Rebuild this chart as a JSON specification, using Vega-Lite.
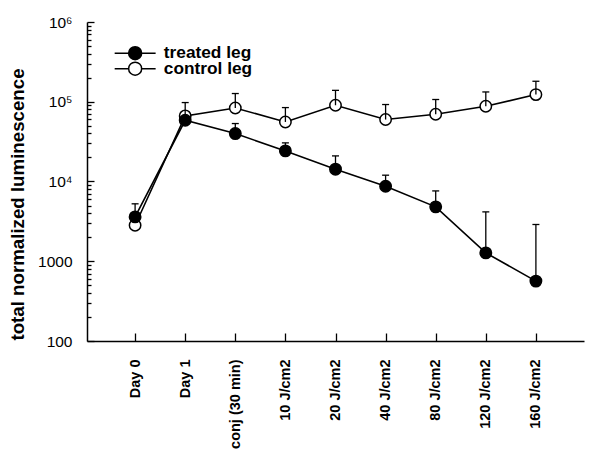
{
  "$schema": "https://vega.github.io/schema/vega-lite/v6.json",
  "width": 497,
  "height": 319,
  "autosize": {"type": "none"},
  "padding": {"left": 87, "top": 22, "right": 16, "bottom": 123},
  "background": "white",
  "config": {"view": {"stroke": null}, "font": "Liberation Sans"},
  "data": {
    "values": [
      {"series": "control leg", "cat": "Day 0", "value": 2830, "upper": null},
      {"series": "control leg", "cat": "Day 1", "value": 66400, "upper": 97700},
      {"series": "control leg", "cat": "conj (30 min)", "value": 83600, "upper": 126800},
      {"series": "control leg", "cat": "10 J/cm2", "value": 55800, "upper": 84500},
      {"series": "control leg", "cat": "20 J/cm2", "value": 90400, "upper": 139000},
      {"series": "control leg", "cat": "40 J/cm2", "value": 59800, "upper": 92300},
      {"series": "control leg", "cat": "80 J/cm2", "value": 69700, "upper": 106700},
      {"series": "control leg", "cat": "120 J/cm2", "value": 87900, "upper": 132700},
      {"series": "control leg", "cat": "160 J/cm2", "value": 123000, "upper": 180700},
      {"series": "treated leg", "cat": "Day 0", "value": 3600, "upper": 5250},
      {"series": "treated leg", "cat": "Day 1", "value": 58600, "upper": null},
      {"series": "treated leg", "cat": "conj (30 min)", "value": 39900, "upper": 53300},
      {"series": "treated leg", "cat": "10 J/cm2", "value": 24200, "upper": 30500},
      {"series": "treated leg", "cat": "20 J/cm2", "value": 14270, "upper": 20940},
      {"series": "treated leg", "cat": "40 J/cm2", "value": 8730, "upper": 12000},
      {"series": "treated leg", "cat": "80 J/cm2", "value": 4810, "upper": 7620},
      {"series": "treated leg", "cat": "120 J/cm2", "value": 1274, "upper": 4160},
      {"series": "treated leg", "cat": "160 J/cm2", "value": 564, "upper": 2890}
    ]
  },
  "encoding": {
    "x": {
      "field": "cat",
      "type": "nominal",
      "sort": ["Day 0", "Day 1", "conj (30 min)", "10 J/cm2", "20 J/cm2", "40 J/cm2", "80 J/cm2", "120 J/cm2", "160 J/cm2"],
      "scale": {"type": "point", "padding": 0.96},
      "axis": {
        "title": null,
        "labelAngle": 270,
        "labelAlign": "right",
        "labelBaseline": "middle",
        "labelFont": "Liberation Sans",
        "labelFontWeight": "bold",
        "labelFontSize": 14.5,
        "labelColor": "black",
        "labelPadding": 26,
        "tickSize": -8,
        "tickColor": "black",
        "tickWidth": 1.3,
        "domainColor": "black",
        "domainWidth": 1.5,
        "grid": false
      }
    }
  },
  "layer": [
    {
      "mark": {"type": "line", "color": "black", "strokeWidth": 1.6},
      "encoding": {
        "y": {
          "field": "value",
          "type": "quantitative",
          "scale": {"type": "log", "domain": [100, 1000000]},
          "axis": {
            "title": "total normalized luminescence",
            "titleFont": "Liberation Sans",
            "titleFontSize": 18.7,
            "titleFontWeight": "bold",
            "titleColor": "black",
            "titleAngle": 270,
            "titleBaseline": "alphabetic",
            "titleX": -64,
            "titleY": 182,
            "values": [100, 200, 300, 400, 500, 600, 700, 800, 900, 1000, 2000, 3000, 4000, 5000, 6000, 7000, 8000, 9000, 10000, 20000, 30000, 40000, 50000, 60000, 70000, 80000, 90000, 100000, 200000, 300000, 400000, 500000, 600000, 700000, 800000, 900000, 1000000],
            "labelExpr": "datum.value == 100 ? '100' : datum.value == 1000 ? '1000' : datum.value == 10000 ? '10⁴' : datum.value == 100000 ? '10⁵' : datum.value == 1000000 ? '10⁶' : ''",
            "labelFont": "Liberation Sans",
            "labelFontSize": 15.5,
            "labelColor": "black",
            "labelPadding": 22,
            "tickSize": {"condition": {"test": "indexof([100, 1000, 10000, 100000, 1000000], datum.value) >= 0", "value": -7}, "value": -4},
            "tickColor": "black",
            "tickWidth": 1.3,
            "domainColor": "black",
            "domainWidth": 1.5,
            "grid": false
          }
        },
        "detail": {"field": "series"}
      }
    },
    {
      "transform": [{"filter": "datum.series == 'control leg'"}],
      "mark": {"type": "point", "shape": "circle", "fill": "white", "filled": true, "size": 130, "strokeWidth": 1.5, "opacity": 1},
      "encoding": {
        "y": {"field": "value", "type": "quantitative"},
        "stroke": {
          "field": "series",
          "type": "nominal",
          "scale": {"domain": ["control leg"], "range": ["black"]},
          "legend": {
            "orient": "none",
            "legendX": 39.5,
            "legendY": 38,
            "title": null,
            "symbolType": "M-3.15,0L-1,0M1,0L3.15,0M-1,0A1,1,0,1,1,1,0A1,1,0,1,1,-1,0Z",
            "symbolSize": 169,
            "symbolFillColor": "white",
            "symbolStrokeWidth": 1.5,
            "symbolOpacity": 1,
            "labelFont": "Liberation Sans",
            "labelFontSize": 17.3,
            "labelFontWeight": "bold",
            "labelColor": "black",
            "labelOffset": 20
          }
        }
      }
    },
    {
      "transform": [{"filter": "datum.series == 'treated leg'"}],
      "mark": {"type": "point", "shape": "circle", "filled": true, "size": 130, "stroke": "black", "strokeWidth": 1.5, "opacity": 1},
      "encoding": {
        "y": {"field": "value", "type": "quantitative"},
        "fill": {
          "field": "series",
          "type": "nominal",
          "scale": {"domain": ["treated leg"], "range": ["black"]},
          "legend": {
            "orient": "none",
            "legendX": 39.5,
            "legendY": 22.5,
            "title": null,
            "symbolType": "M-3.15,0L-1,0M1,0L3.15,0M-1,0A1,1,0,1,1,1,0A1,1,0,1,1,-1,0Z",
            "symbolSize": 169,
            "symbolStrokeColor": "black",
            "symbolStrokeWidth": 1.5,
            "symbolOpacity": 1,
            "labelFont": "Liberation Sans",
            "labelFontSize": 17.3,
            "labelFontWeight": "bold",
            "labelColor": "black",
            "labelOffset": 20
          }
        }
      }
    },
    {
      "transform": [{"filter": "datum.upper != null"}],
      "mark": {"type": "rule", "color": "black", "strokeWidth": 1.3},
      "encoding": {
        "y": {"field": "value", "type": "quantitative"},
        "y2": {"field": "upper"}
      }
    },
    {
      "transform": [{"filter": "datum.upper != null"}],
      "mark": {"type": "tick", "orient": "horizontal", "color": "black", "thickness": 1.3, "size": 7, "opacity": 1},
      "encoding": {
        "y": {"field": "upper", "type": "quantitative"}
      }
    }
  ]
}
